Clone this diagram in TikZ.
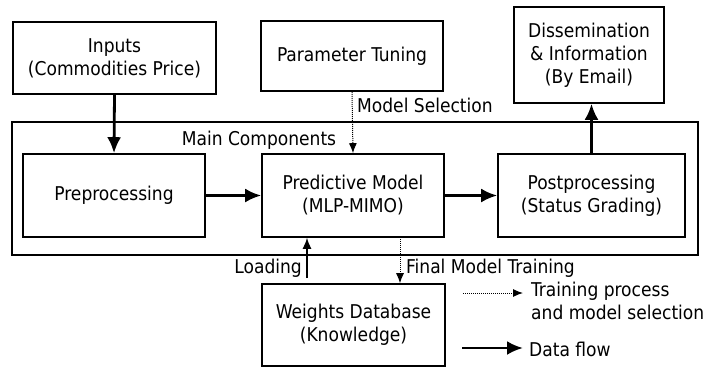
\documentclass[tikz,border=0pt]{standalone}
\usepackage{fontspec}
\setmainfont{DejaVu Sans Condensed}
\usetikzlibrary{arrows.meta,calc}
\begin{document}
\begin{tikzpicture}[x=1pt,y=-1pt,
  font=\fontsize{19}{23}\selectfont,
  box/.style={draw,line width=1.6pt,align=center,inner sep=0pt,minimum width=#1},
  flow/.style={line width=2.8pt,-{Latex[length=16pt,width=14pt]}},
  thinflow/.style={line width=1.4pt,-{Latex[length=11pt,width=9pt]}},
  train/.style={line width=1pt,dash pattern=on 1pt off 1pt,-{Latex[length=10pt,width=8pt]}},
  lbl/.style={inner sep=0pt}]
\useasboundingbox (0,0) rectangle (715,368);
\node[box=686pt,minimum height=133pt] (cont) at (355,188.5) {};
\node[box=203pt,minimum height=72pt] (inp) at (114.5,58) {Inputs\\(Commodities Price)};
\node[box=182pt,minimum height=70pt] (par) at (352,56) {Parameter Tuning};
\node[box=150pt,minimum height=96pt] (dis) at (589,55) {Dissemination\\\&~Information\\(By Email)};
\node[box=182pt,minimum height=83pt] (pre) at (114,195.5) {Preprocessing};
\node[box=182pt,minimum height=83pt] (pred) at (353,195.5) {Predictive Model\\(MLP-MIMO)};
\node[box=187pt,minimum height=83pt] (post) at (591.5,195.5) {Postprocessing\\(Status Grading)};
\node[box=183pt,minimum height=82pt] (wdb) at (353.5,325) {Weights Database\\(Knowledge)};
\node[lbl] (mc) at (259,140) {Main Components};
\node[lbl,anchor=west] (ms) at (357,105) {Model Selection};
\node[lbl,anchor=east] (ldl) at (302,268) {Loading};
\node[lbl,anchor=west] (fmt) at (406,268) {Final Model Training};
\coordinate (ld) at (307,278);
\coordinate (fm) at (400,237);
\draw[flow] (inp.south) -- (pre.north);
\draw[train] (par.south) -- (pred.north);
\draw[flow] (pre.east) -- (pred.west);
\draw[flow] (pred.east) -- (post.west);
\draw[flow] (post.north) -- (post.north |- dis.south);
\draw[thinflow] (ld) -- (ld |- pred.south);
\draw[train] (fm) -- (fm |- wdb.north);
% legend
\coordinate (l1a) at (463,293);
\coordinate (l1b) at (523,293);
\coordinate (l2a) at (462,348);
\coordinate (l2b) at (523,348);
\draw[train] (l1a) -- (l1b);
\draw[flow] (l2a) -- (l2b);
\node[lbl,anchor=west,align=left] (lt1) at (531,301) {Training process\\and model selection};
\node[lbl,anchor=west] (lt2) at (529,349) {Data flow};
\end{tikzpicture}
\end{document}
